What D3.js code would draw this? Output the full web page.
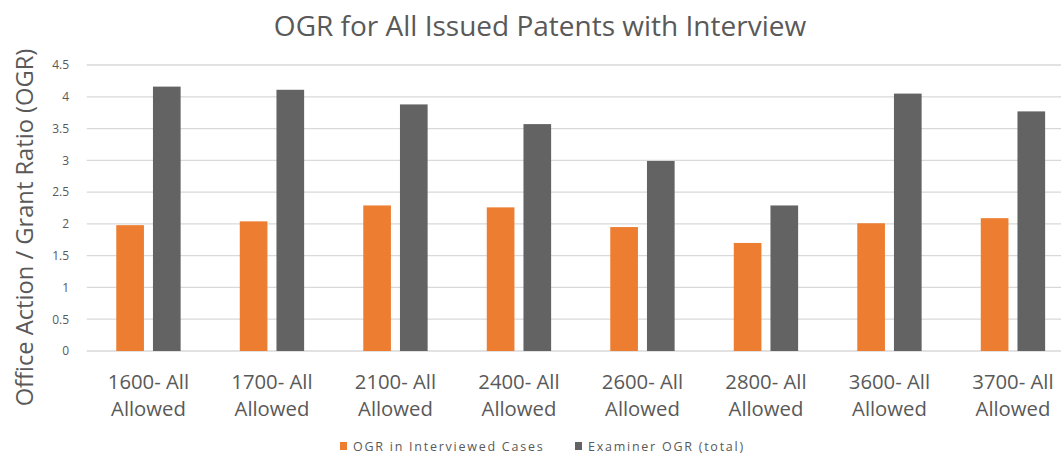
<!DOCTYPE html>
<html>
<head>
<meta charset="utf-8">
<script src="https://cdn.jsdelivr.net/npm/d3@7"></script>
<style>
  html, body { margin: 0; padding: 0; background: #fff; }
  svg { display: block; font-family: "Open Sans", "Noto Sans", sans-serif; }
</style>
</head>
<body>
<svg id="chart" width="1061" height="455"></svg>
<script>
// Art units (two-line category labels)
const categoryLine1 = ["1600- All", "1700- All", "2100- All", "2400- All", "2600- All", "2800- All", "3600- All", "3700- All"];
const categoryLine2 = ["Allowed", "Allowed", "Allowed", "Allowed", "Allowed", "Allowed", "Allowed", "Allowed"];

// Series
const seriesNames = ["OGR in  Interviewed Cases", "Examiner OGR (total)"];
const interviewedOGR = [1.98, 2.04, 2.29, 2.26, 1.95, 1.70, 2.01, 2.09];
const examinerOGR    = [4.16, 4.11, 3.88, 3.57, 2.99, 2.29, 4.05, 3.77];
const seriesColors = ["#ED7D31", "#636363"];

// Axis ticks
const yTicks = [0, 0.5, 1, 1.5, 2, 2.5, 3, 3.5, 4, 4.5];

const titleText = "OGR for All Issued Patents with Interview";
const yAxisTitle = "Office Action / Grant Ratio (OGR)";

const svg = d3.select("#chart");
const width = 1061, height = 455;
const plot = { left: 86.7, top: 65, bottom: 351, step: 123.5 };

const cats = categoryLine1.map((d, i) => i);
const x0 = d3.scaleBand()
  .domain(cats)
  .range([plot.left, plot.left + plot.step * cats.length])
  .padding(0);
const x1 = d3.scaleBand()
  .domain([0, 1])
  .range([0, x0.bandwidth()])
  .paddingInner(0.246)
  .paddingOuter(0.806);
const y = d3.scaleLinear().domain([0, 4.5]).range([plot.bottom, plot.top]);

// Gridlines
svg.append("g")
  .selectAll("line")
  .data(yTicks)
  .join("line")
  .attr("x1", plot.left)
  .attr("x2", width)
  .attr("y1", d => y(d))
  .attr("y2", d => y(d))
  .attr("stroke", "#d9d9d9")
  .attr("stroke-width", 1.3);

// Y axis labels
const yAxis = svg.append("g")
  .attr("transform", `translate(${69},0)`)
  .call(d3.axisLeft(y).tickValues(yTicks).tickSize(0).tickPadding(0).tickFormat(d3.format("")));
yAxis.select(".domain").remove();
yAxis.selectAll("text")
  .attr("font-family", "'Open Sans', sans-serif")
  .attr("font-size", 12)
  .attr("fill", "#595959");

// Bars
const seriesData = [interviewedOGR, examinerOGR];
const groups = svg.append("g")
  .selectAll("g")
  .data(cats)
  .join("g")
  .attr("transform", d => `translate(${x0(d)},0)`);
groups.selectAll("rect")
  .data(i => seriesData.map((vals, s) => ({ s, v: vals[i] })))
  .join("rect")
  .attr("x", d => x1(d.s))
  .attr("width", x1.bandwidth())
  .attr("y", d => y(d.v))
  .attr("height", d => y(0) - y(d.v))
  .attr("fill", d => seriesColors[d.s]);

// X axis category labels
const xAxis = svg.append("g")
  .attr("transform", `translate(0,${plot.bottom})`)
  .call(d3.axisBottom(x0).tickSize(0).tickFormat(""));
xAxis.select(".domain").remove();
xAxis.selectAll(".tick text").remove();
const lbl = xAxis.selectAll(".tick")
  .append("text")
  .attr("text-anchor", "middle")
  .attr("font-family", "'Open Sans', sans-serif")
  .attr("font-size", 20.3)
  .attr("fill", "#595959");
lbl.append("tspan").attr("x", 0).attr("y", 37.5).text(d => categoryLine1[d]);
lbl.append("tspan").attr("x", 0).attr("y", 64.5).text(d => categoryLine2[d]);

// Title
svg.append("text")
  .attr("x", 540)
  .attr("y", 36)
  .attr("text-anchor", "middle")
  .attr("font-size", 28)
  .attr("fill", "#595959")
  .text(titleText);

// Y axis title
svg.append("text")
  .attr("transform", `translate(33,${227.5}) rotate(-90)`)
  .attr("text-anchor", "middle")
  .attr("font-size", 23.7)
  .attr("fill", "#595959")
  .text(yAxisTitle);

// Legend
const legendItems = [
  { name: seriesNames[0], color: seriesColors[0], x: 340 },
  { name: seriesNames[1], color: seriesColors[1], x: 575 }
];
const leg = svg.append("g")
  .selectAll("g")
  .data(legendItems)
  .join("g")
  .attr("transform", d => `translate(${d.x},${442})`);
leg.append("rect").attr("width", 7).attr("height", 8).attr("fill", d => d.color);
leg.append("text")
  .attr("x", 13)
  .attr("y", 8.5)
  .attr("font-size", 12.5)
  .attr("letter-spacing", 1.75)
  .attr("fill", "#595959")
  .text(d => d.name);
</script>
</body>
</html>
